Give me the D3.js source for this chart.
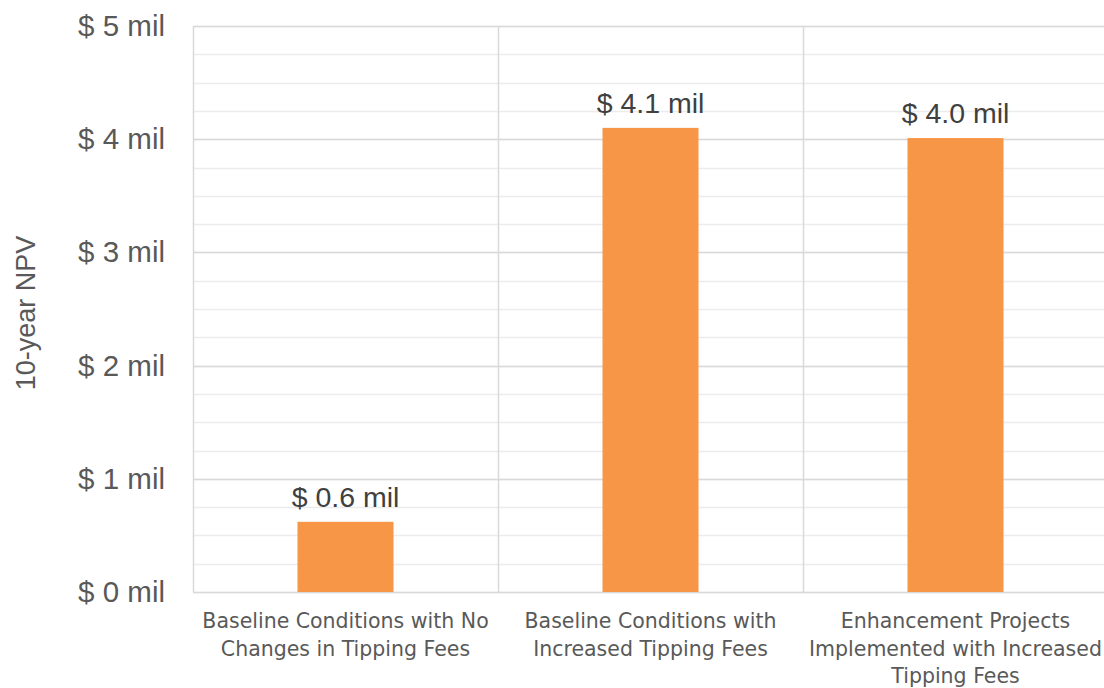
<!DOCTYPE html>
<html>
<head>
<meta charset="utf-8">
<script src="https://cdn.jsdelivr.net/npm/d3@7"></script>
<style>
  html, body { margin: 0; padding: 0; background: #fff; }
  svg { display: block; font-family: "Liberation Sans", Arial, sans-serif; }
</style>
</head>
<body>
<svg id="chart" width="1104" height="688"></svg>
<script>
// Scenario names (each entry is one line of the wrapped label)
const categories = [
  ["Baseline Conditions with No", "Changes in Tipping Fees"],
  ["Baseline Conditions with", "Increased Tipping Fees"],
  ["Enhancement Projects", "Implemented with Increased", "Tipping Fees"]
];
// 10-year NPV, millions of dollars
const npvValues = [0.62, 4.1, 4.01];
const valueLabels = ["$ 0.6 mil", "$ 4.1 mil", "$ 4.0 mil"];
const yTicks = [0, 1, 2, 3, 4, 5];
const yTickLabels = ["$ 0 mil", "$ 1 mil", "$ 2 mil", "$ 3 mil", "$ 4 mil", "$ 5 mil"];
const minorTicks = d3.range(0, 5.001, 0.25);

const svg = d3.select("#chart");
const margin = { left: 193, top: 26, right: -4, bottom: 96 };
const W = 1104, H = 688;
const plotW = W - margin.left - margin.right;
const plotH = H - margin.top - margin.bottom;

const x = d3.scaleBand().domain(d3.range(categories.length)).range([0, plotW]).paddingInner(0).paddingOuter(0);
const y = d3.scaleLinear().domain([0, 5]).range([plotH, 0]);

const g = svg.append("g").attr("transform", `translate(${margin.left},${margin.top})`);

// minor gridlines
g.append("g").selectAll("line").data(minorTicks).join("line")
  .attr("x1", 0).attr("x2", plotW)
  .attr("y1", d => Math.round(y(d)) + 0.5).attr("y2", d => Math.round(y(d)) + 0.5)
  .attr("stroke", "#ececec").attr("stroke-width", 1.5);

// major gridlines
g.append("g").selectAll("line").data(yTicks).join("line")
  .attr("x1", 0).attr("x2", plotW)
  .attr("y1", d => Math.round(y(d)) + 0.5).attr("y2", d => Math.round(y(d)) + 0.5)
  .attr("stroke", "#d9d9d9").attr("stroke-width", 1.5);

// vertical category dividers
const dividers = d3.range(categories.length + 1).map(i => i * x.step());
g.append("g").selectAll("line").data(dividers).join("line")
  .attr("x1", d => Math.round(d) + 0.5).attr("x2", d => Math.round(d) + 0.5)
  .attr("y1", 0).attr("y2", plotH)
  .attr("stroke", "#d9d9d9").attr("stroke-width", 1.5);

// y axis labels
const yAxis = d3.axisLeft(y).tickValues(yTicks).tickFormat((d, i) => yTickLabels[i]).tickSize(0).tickPadding(28);
g.append("g").call(yAxis)
  .call(s => s.select(".domain").remove())
  .selectAll("text")
  .attr("font-size", 29.5).attr("fill", "#595959")
  .attr("font-family", "'Liberation Sans', Arial, sans-serif");

// bars
const barW = 96;
g.append("g").selectAll("rect").data(npvValues).join("rect")
  .attr("x", (d, i) => x(i) + x.bandwidth() / 2 - barW / 2)
  .attr("width", barW)
  .attr("y", d => y(d))
  .attr("height", d => plotH - y(d))
  .attr("fill", "#F79646");

// value labels
g.append("g").selectAll("text").data(npvValues).join("text")
  .attr("x", (d, i) => x(i) + x.bandwidth() / 2)
  .attr("y", d => y(d) - 15)
  .attr("text-anchor", "middle")
  .attr("font-size", 28.5).attr("fill", "#404040")
  .text((d, i) => valueLabels[i]);

// category labels
const catG = g.append("g").attr("transform", `translate(0,${plotH})`);
categories.forEach((lines, i) => {
  const t = catG.append("text")
    .attr("x", x(i) + x.bandwidth() / 2)
    .attr("y", 36)
    .attr("text-anchor", "middle")
    .attr("font-family", "'DejaVu Sans', sans-serif")
    .attr("font-size", 20.5).attr("fill", "#595959");
  lines.forEach((ln, j) => {
    t.append("tspan").attr("x", x(i) + x.bandwidth() / 2).attr("dy", j === 0 ? 0 : 27.5).text(ln);
  });
});

// y axis title
svg.append("text")
  .attr("transform", `translate(35,313) rotate(-90)`)
  .attr("text-anchor", "middle")
  .attr("font-size", 27).attr("fill", "#595959")
  .text("10-year NPV");
</script>
</body>
</html>
